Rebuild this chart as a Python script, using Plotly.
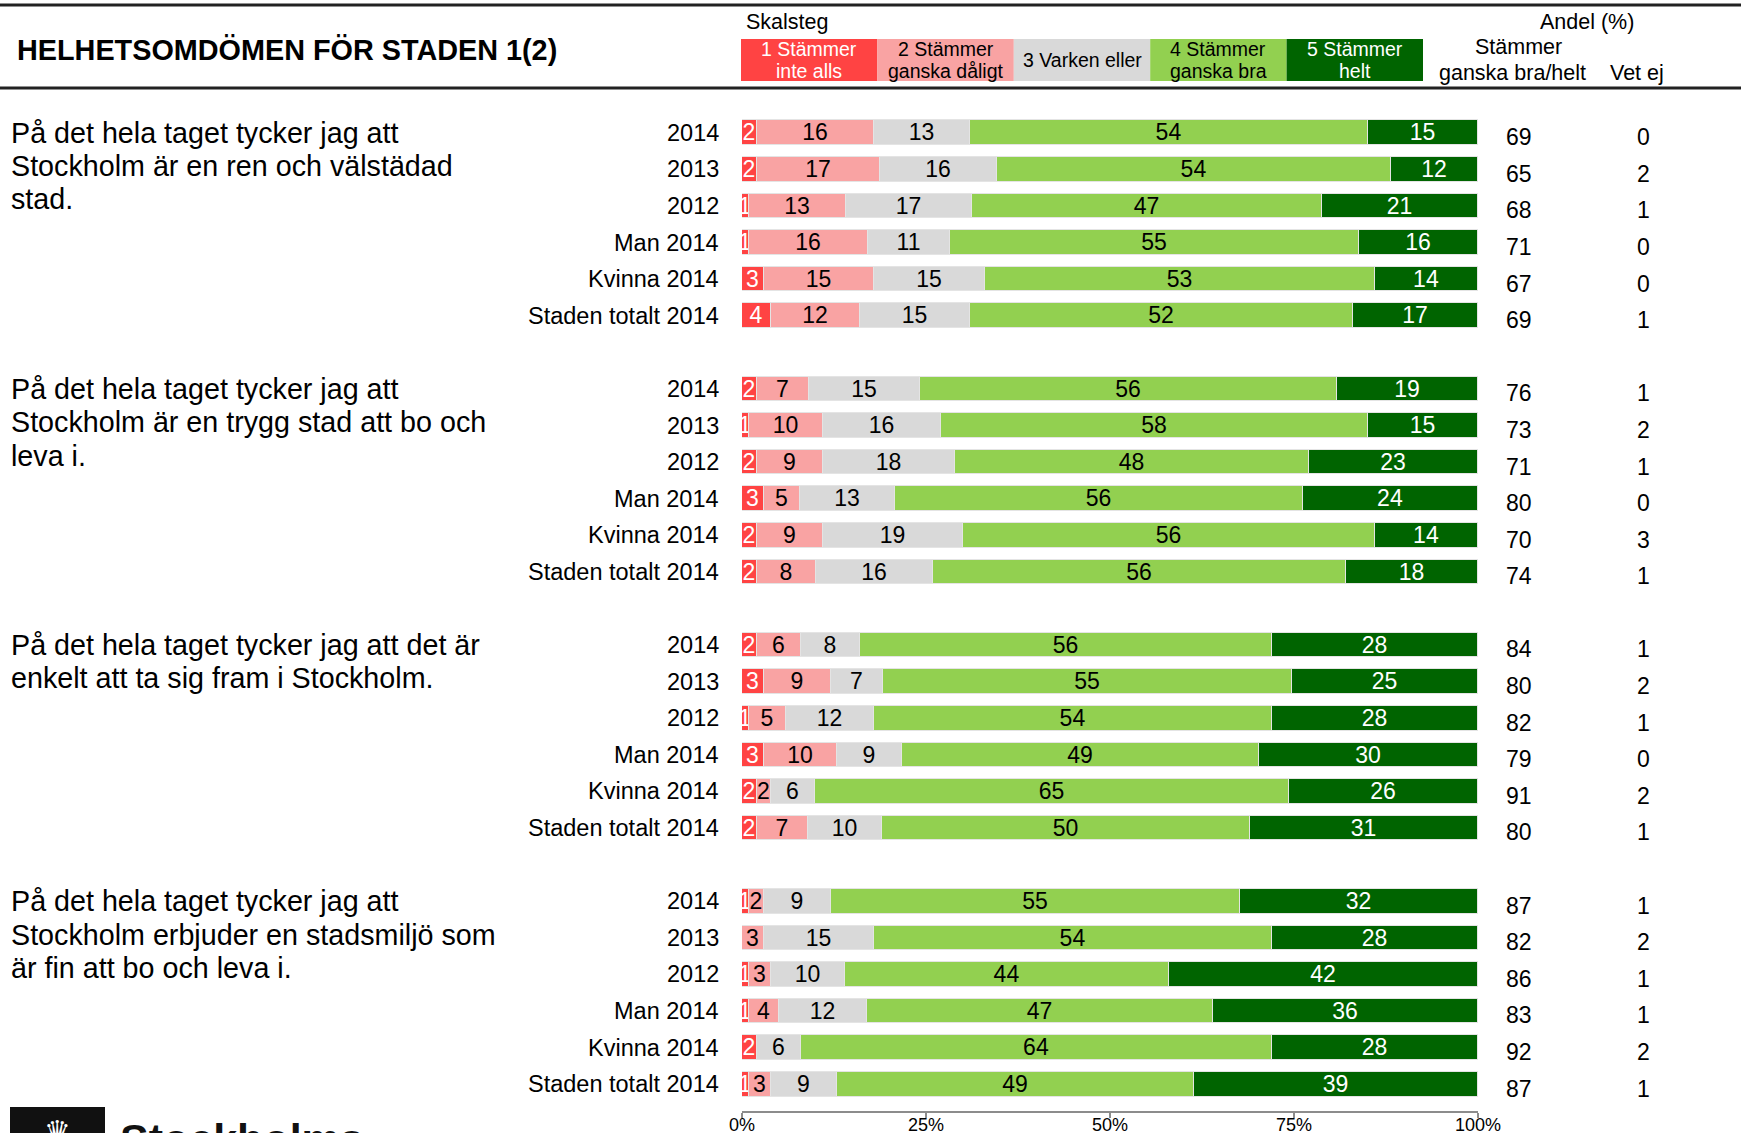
import plotly.graph_objects as go

# ---------------- data ----------------
categories = ["1 Stämmer<br>inte alls", "2 Stämmer<br>ganska dåligt", "3 Varken eller",
              "4 Stämmer<br>ganska bra", "5 Stämmer<br>helt"]
cat_colors = ["#FF4343", "#F9A3A3", "#D9D9D9", "#92D050", "#006400"]
cat_text_colors = ["white", "black", "black", "black", "white"]

questions = [
    ["På det hela taget tycker jag att", "Stockholm är en ren och välstädad", "stad."],
    ["På det hela taget tycker jag att", "Stockholm är en trygg stad att bo och", "leva i."],
    ["På det hela taget tycker jag att det är", "enkelt att ta sig fram i Stockholm."],
    ["På det hela taget tycker jag att", "Stockholm erbjuder en stadsmiljö som", "är fin att bo och leva i."],
]
row_labels = ["2014", "2013", "2012", "Man 2014", "Kvinna 2014", "Staden totalt 2014"]

# values per category, 6 rows per question (Q1..Q4)
cat1 = [2, 2, 1, 1, 3, 4,   2, 1, 2, 3, 2, 2,   2, 3, 1, 3, 2, 2,   1, 0, 1, 1, 2, 1]
cat2 = [16, 17, 13, 16, 15, 12,   7, 10, 9, 5, 9, 8,   6, 9, 5, 10, 2, 7,   2, 3, 3, 4, 0, 3]
cat3 = [13, 16, 17, 11, 15, 15,   15, 16, 18, 13, 19, 16,   8, 7, 12, 9, 6, 10,   9, 15, 10, 12, 6, 9]
cat4 = [54, 54, 47, 55, 53, 52,   56, 58, 48, 56, 56, 56,   56, 55, 54, 49, 65, 50,   55, 54, 44, 47, 64, 49]
cat5 = [15, 12, 21, 16, 14, 17,   19, 15, 23, 24, 14, 18,   28, 25, 28, 30, 26, 31,   32, 28, 42, 36, 28, 39]
andel_bra = [69, 65, 68, 71, 67, 69,   76, 73, 71, 80, 70, 74,   84, 80, 82, 79, 91, 80,   87, 82, 86, 83, 92, 87]
vet_ej = [0, 2, 1, 0, 0, 1,   1, 2, 1, 0, 3, 1,   1, 2, 1, 0, 2, 1,   1, 2, 1, 1, 2, 1]
x_ticks = [0, 25, 50, 75, 100]

# ---------------- layout helpers ----------------
W, H = 1741, 1133
L, R, T, B = 742, 1478, 106, 1111
FONT = "Liberation Sans, Arial, sans-serif"


def fx(px):
    return (px - L) / (R - L)


def fy(py):
    return (B - py) / (B - T)


n_rows = len(row_labels)
positions = [g * (n_rows + 1) + r for g in range(len(questions)) for r in range(n_rows)]
all_cats = [cat1, cat2, cat3, cat4, cat5]
totals = [sum(c[i] for c in all_cats) for i in range(len(cat1))]

fig = go.Figure()
for ci, vals in enumerate(all_cats):
    fig.add_trace(go.Bar(
        y=positions,
        x=[v / t * 100 for v, t in zip(vals, totals)],
        orientation="h",
        name=categories[ci],
        marker=dict(color=cat_colors[ci], line=dict(color="#E4E4E4", width=1)),
        width=0.67,
        text=[str(v) if v > 0 else "" for v in vals],
        textposition="inside",
        insidetextanchor="middle",
        textangle=0,
        textfont=dict(family=FONT, size=23, color=cat_text_colors[ci]),
        cliponaxis=False,
        hoverinfo="skip",
        showlegend=False,
    ))

ann = []
# row labels and value columns
for i, p in enumerate(positions):
    ann.append(dict(xref="paper", yref="y", x=fx(721), y=p, xanchor="right", yanchor="middle",
                    text=row_labels[i % n_rows], showarrow=False,
                    font=dict(family=FONT, size=23.5, color="black")))
    ann.append(dict(xref="paper", yref="y", x=fx(1519), y=p + 0.12, xanchor="center", yanchor="middle",
                    text=str(andel_bra[i]), showarrow=False,
                    font=dict(family=FONT, size=23, color="black")))
    ann.append(dict(xref="paper", yref="y", x=fx(1643), y=p + 0.12, xanchor="center", yanchor="middle",
                    text=str(vet_ej[i]), showarrow=False,
                    font=dict(family=FONT, size=23, color="black")))

# question texts
for g, lines in enumerate(questions):
    for k, line in enumerate(lines):
        ann.append(dict(xref="paper", yref="y", x=fx(9), y=g * (n_rows + 1) + k * 0.91,
                        xanchor="left", yanchor="middle", text=line, showarrow=False,
                        font=dict(family=FONT, size=28.7, color="black")))

# header
ann.append(dict(xref="paper", yref="paper", x=fx(15), y=fy(50), xanchor="left", yanchor="middle",
                text="<b>HELHETSOMDÖMEN FÖR STADEN 1(2)</b>", showarrow=False,
                font=dict(family=FONT, size=28.8, color="black")))
ann.append(dict(xref="paper", yref="paper", x=fx(744), y=fy(22), xanchor="left", yanchor="middle",
                text="Skalsteg", showarrow=False, font=dict(family=FONT, size=21.5, color="black")))
ann.append(dict(xref="paper", yref="paper", x=fx(1587), y=fy(22), xanchor="center", yanchor="middle",
                text="Andel (%)", showarrow=False, font=dict(family=FONT, size=21.5, color="black")))
ann.append(dict(xref="paper", yref="paper", x=fx(1518), y=fy(47), xanchor="center", yanchor="middle",
                text="Stämmer", showarrow=False, font=dict(family=FONT, size=21.5, color="black")))
ann.append(dict(xref="paper", yref="paper", x=fx(1512), y=fy(73), xanchor="center", yanchor="middle",
                text="ganska bra/helt", showarrow=False, font=dict(family=FONT, size=21.5, color="black")))
ann.append(dict(xref="paper", yref="paper", x=fx(1637), y=fy(73), xanchor="center", yanchor="middle",
                text="Vet ej", showarrow=False, font=dict(family=FONT, size=21.5, color="black")))

shapes = []
box_w = (1423 - 741) / 5
for ci in range(5):
    x0 = 741 + ci * box_w
    shapes.append(dict(type="rect", xref="paper", yref="paper", x0=fx(x0), x1=fx(x0 + box_w),
                       y0=fy(81), y1=fy(39), fillcolor=cat_colors[ci], line=dict(width=0), layer="below"))
    parts = categories[ci].split("<br>")
    if len(parts) == 2:
        for j, part in enumerate(parts):
            ann.append(dict(xref="paper", yref="paper", x=fx(x0 + box_w / 2), y=fy(49 + j * 22),
                            xanchor="center", yanchor="middle", text=part, showarrow=False,
                            font=dict(family=FONT, size=19.5, color=cat_text_colors[ci])))
    else:
        ann.append(dict(xref="paper", yref="paper", x=fx(x0 + box_w / 2), y=fy(60),
                        xanchor="center", yanchor="middle", text=parts[0], showarrow=False,
                        font=dict(family=FONT, size=19.5, color=cat_text_colors[ci])))

# header rules
for yy in (5, 88):
    shapes.append(dict(type="line", xref="paper", yref="paper", x0=fx(0), x1=fx(W),
                       y0=fy(yy), y1=fy(yy), line=dict(color="#222222", width=3)))

# logo (partially cut by the page bottom)
shapes.append(dict(type="rect", xref="paper", yref="paper", x0=fx(10), x1=fx(105),
                   y0=fy(1150), y1=fy(1107), fillcolor="#111111", line=dict(width=0)))
ann.append(dict(xref="paper", yref="paper", x=fx(57), y=fy(1112), xanchor="center", yanchor="top",
                text="♛", showarrow=False, font=dict(family="DejaVu Sans", size=30, color="white")))
ann.append(dict(xref="paper", yref="paper", x=fx(118), y=fy(1113), xanchor="left", yanchor="top",
                text="<b>Stockholms</b>", showarrow=False,
                font=dict(family=FONT, size=43, color="#111111")))

fig.update_layout(
    width=W, height=H,
    margin=dict(l=L, r=W - R, t=T, b=H - B, pad=0, autoexpand=False),
    paper_bgcolor="white", plot_bgcolor="white",
    barmode="stack", bargap=0,
    uniformtext=dict(minsize=23, mode="show"),
    annotations=ann, shapes=shapes,
    xaxis=dict(range=[0, 100], tickvals=x_ticks, ticktext=[f"{t}%" for t in x_ticks],
               showgrid=False, zeroline=False, showline=True, linecolor="#8C8C8C", linewidth=2,
               ticks="outside", ticklen=5, tickwidth=2, tickcolor="#8C8C8C", automargin=False,
               ticklabelstandoff=-9,
               tickfont=dict(family=FONT, size=18, color="black"), fixedrange=True),
    yaxis=dict(range=[len(positions) + len(questions) - 2 + 0.73, -0.73], showgrid=False,
               zeroline=False, showline=False, showticklabels=False, ticks="", fixedrange=True,
               automargin=False),
    font=dict(family=FONT),
)

fig.write_html("out.html", config={"displayModeBar": False},
               post_script="document.body.style.margin='0';document.body.style.overflow='hidden';")
